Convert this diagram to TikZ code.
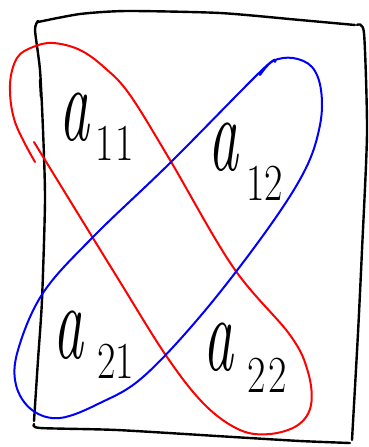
\documentclass[tikz,border=0pt]{standalone}
\newcommand{\biga}{\scalebox{1}[1.8]{\fontsize{60}{60}\selectfont\itshape a}}
\newcommand{\subdig}[2]{\raisebox{-#1}{\scalebox{1}[1.3]{\fontsize{40}{40}\selectfont #2}}}
\begin{document}
\begin{tikzpicture}[x=1pt,y=-1pt,
  frame/.style={line width=2.4pt,line join=round,line cap=round,black},
  redloop/.style={line width=2pt,red,line cap=round,line join=round},
  blueloop/.style={line width=2pt,blue,line cap=round,line join=round},
  lbl/.style={inner sep=0pt,anchor=base west}]
\useasboundingbox (0,0) rectangle (368,447);
% frame
\draw[frame] plot[smooth,tension=0.4] coordinates {(38,22) (80,14) (127,11) (220,13) (300,20) (355,25)};
\draw[frame] plot[smooth,tension=0.4] coordinates {(357,25) (364,33) (367,133) (362,250) (358,333) (352,440)};
\draw[frame] plot[smooth,tension=0.4] coordinates {(350,443) (300,441) (233,437) (117,430) (40,428) (34,424)};
\draw[frame] plot[smooth,tension=0.4] coordinates {(34,421) (38,360) (42,300) (45,200) (43,130) (40,70) (35,30) (38,21)};
\draw[frame] (40,80) -- (41,97);
% red loop
\draw[redloop] plot[smooth,tension=0.6] coordinates {(35,162) (15,122) (10,85) (17,58) (33,47) (53,43) (80,50) (105,68) (130,95) (170,160) (233,267) (290,335) (308,372) (311,405) (298,425) (270,434) (240,430) (205,405) (167,357) (117,277) (53,173) (34,142)};
% blue loop
\draw[blueloop] plot[smooth,tension=0.6] coordinates {(260,75) (273,61) (293,58) (312,67) (321,90) (320,125) (305,170) (267,230) (203,313) (143,377) (100,403) (60,418) (32,410) (16,385) (18,350) (43,293) (93,237) (170,163) (262,70) (275,62)};
% labels
\node[lbl] (a11) at (59,140) {\biga\hspace{6pt}\subdig{20pt}{1\hspace{2pt}1}};
\node[lbl] (a12) at (208,170) {\biga\hspace{8pt}\subdig{30pt}{12}};
\node[lbl] (a21) at (53,358) {\biga\hspace{14pt}\subdig{20pt}{21}};
\node[lbl] (a22) at (203,370) {\biga\hspace{14pt}\subdig{22pt}{2\hspace{3pt}2}};
\end{tikzpicture}
\end{document}
